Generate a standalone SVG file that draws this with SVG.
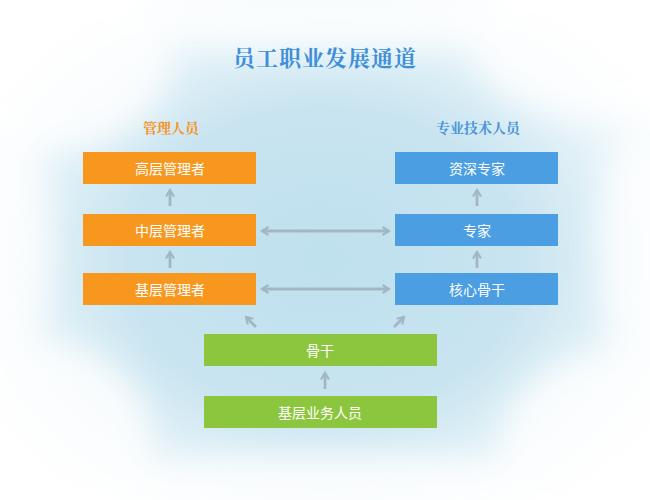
<svg xmlns="http://www.w3.org/2000/svg" width="650" height="500" viewBox="0 0 650 500">
<defs>
<radialGradient id="sky" cx="0.5" cy="0.52" r="0.6">
<stop offset="0" stop-color="#bfe0ee"/>
<stop offset="0.5" stop-color="#c8e4f0"/>
<stop offset="0.8" stop-color="#e8f4f9"/>
<stop offset="1" stop-color="#ffffff"/>
</radialGradient>
<filter id="blur" x="-50%" y="-50%" width="200%" height="200%"><feGaussianBlur stdDeviation="16"/></filter>
<marker id="ah" viewBox="0 0 10 10" refX="8" refY="5" markerWidth="10" markerHeight="10" markerUnits="userSpaceOnUse" orient="auto-start-reverse">
<path d="M1.5,1 L8,5 L1.5,9" fill="none" stroke="#a3b7c3" stroke-width="2.2"/>
</marker>
<style>
.lbl{font-family:"Noto Sans CJK SC","Noto Sans",sans-serif;font-size:14px;fill:#ffffff;text-anchor:middle;dominant-baseline:central}
.or{fill:#f7971e}
.bl{fill:#4b9ee2}
.gr{fill:#8cc63e}
.con{stroke:#a3b7c3;stroke-width:2.8;fill:none;marker-end:url(#ah)}
.dbl{marker-start:url(#ah)}
.head{font-family:"Noto Serif CJK SC","Noto Sans CJK SC",serif;font-weight:bold;text-anchor:middle}
</style>
</defs>
<rect width="650" height="500" fill="url(#sky)"/>
<g filter="url(#blur)" fill="#ffffff" opacity="0.8">
<ellipse cx="50" cy="60" rx="120" ry="90"/>
<ellipse cx="600" cy="40" rx="130" ry="80"/>
<ellipse cx="30" cy="440" rx="120" ry="100"/>
<ellipse cx="620" cy="450" rx="120" ry="100"/>
<ellipse cx="330" cy="495" rx="280" ry="40"/>
<ellipse cx="330" cy="20" rx="200" ry="30"/>
<ellipse cx="10" cy="250" rx="40" ry="120"/>
<ellipse cx="640" cy="250" rx="40" ry="120"/>
</g>
<text class="head" x="325" y="66" font-size="22" fill="#3f8fd8" letter-spacing="1">员工职业发展通道</text>
<text class="head" x="171" y="133" font-size="14" fill="#f7941d">管理人员</text>
<text class="head" x="478" y="133" font-size="14" fill="#4a94d8">专业技术人员</text>
<g id="connectors">
<line class="con" x1="170" y1="206" x2="170" y2="190"/>
<line class="con" x1="170" y1="268" x2="170" y2="252"/>
<line class="con" x1="477" y1="206" x2="477" y2="190"/>
<line class="con" x1="477" y1="268" x2="477" y2="252"/>
<line class="con dbl" x1="262" y1="231" x2="389" y2="231"/>
<line class="con dbl" x1="262" y1="289" x2="389" y2="289"/>
<line class="con" x1="256" y1="327" x2="246" y2="317"/>
<line class="con" x1="394" y1="327" x2="404" y2="317"/>
<line class="con" x1="325" y1="389" x2="325" y2="373"/>
</g>
<g id="n1"><rect class="or" x="83" y="152" width="173" height="32"/><text class="lbl" x="170" y="168">高层管理者</text></g>
<g id="n2"><rect class="or" x="83" y="214" width="173" height="32"/><text class="lbl" x="170" y="230">中层管理者</text></g>
<g id="n3"><rect class="or" x="83" y="273" width="173" height="32"/><text class="lbl" x="170" y="289">基层管理者</text></g>
<g id="n4"><rect class="bl" x="395" y="152" width="163" height="32"/><text class="lbl" x="477" y="168">资深专家</text></g>
<g id="n5"><rect class="bl" x="395" y="214" width="163" height="32"/><text class="lbl" x="477" y="230">专家</text></g>
<g id="n6"><rect class="bl" x="395" y="273" width="163" height="32"/><text class="lbl" x="477" y="289">核心骨干</text></g>
<g id="n7"><rect class="gr" x="204" y="334" width="233" height="32"/><text class="lbl" x="320" y="350">骨干</text></g>
<g id="n8"><rect class="gr" x="204" y="396" width="233" height="32"/><text class="lbl" x="320" y="412">基层业务人员</text></g>
</svg>
